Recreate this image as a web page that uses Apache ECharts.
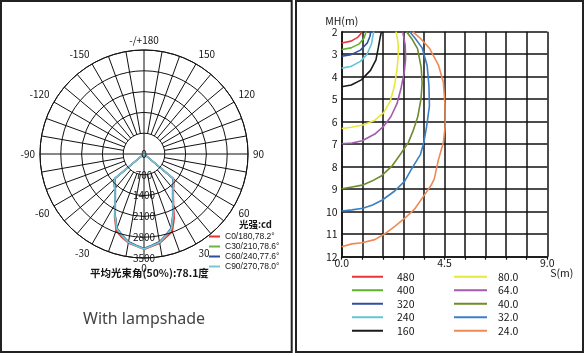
<!DOCTYPE html>
<html>
<head>
<meta charset="utf-8">
<script src="https://cdn.jsdelivr.net/npm/echarts@6/dist/echarts.min.js"></script>
<style>html,body{margin:0;padding:0;background:#fff}#c{width:587px;height:356px}</style>
</head>
<body>
<div id="c"></div>
<script>
// ---------- Left: polar intensity diagram ----------
const gammaAngles = [-90,-85,-80,-75,-70,-65,-60,-55,-50,-45,-40,-35,-30,-25,-20,-15,-10,-5,0,5,10,15,20,25,30,35,40,45,50,55,60,65,70,75,80,85,90];
const polarSeriesNames = ['C0/180,78.2°','C30/210,78.6°','C60/240,77.6°','C90/270,78.0°'];
const intensityC0 = [0,0,0,0,0,0,0,0,1300,1430,1530,1710,1960,2340,2740,2900,3040,3110,3210,3120,3050,2900,2780,2400,1990,1720,1540,1430,1300,0,0,0,0,0,0,0,0];
const intensityC30 = [0,0,0,0,0,0,0,0,1270,1410,1510,1690,1940,2300,2670,2840,3010,3090,3190,3090,3010,2840,2690,2320,1960,1710,1520,1410,1270,0,0,0,0,0,0,0,0];
const intensityC60 = [0,0,0,0,0,0,0,0,1260,1400,1500,1680,1930,2290,2660,2830,3000,3080,3180,3080,3000,2830,2660,2290,1930,1680,1500,1400,1260,0,0,0,0,0,0,0,0];
const intensityC90 = [0,0,0,0,0,0,0,0,1280,1420,1520,1700,1950,2310,2680,2850,3020,3100,3200,3100,3020,2850,2680,2310,1950,1700,1520,1420,1280,0,0,0,0,0,0,0,0];
const angleTickValues = [0,30,60,90,120,150,180,210,240,270,300,330];
const angleTickLabels = ['0','30','60','90','120','150','-/+180','-150','-120','-90','-60','-30'];

// ---------- Right: isolux-style curves ----------
const isoNamesA = ['480','400','320','240','160'];
const isoNamesB = ['80.0','64.0','40.0','32.0','24.0'];
const curve480 = [[0,2.5],[0.41,2.42],[0.7,2.25],[0.83,2.1],[0.88,2.0]];
const curve400 = [[0,2.79],[0.41,2.72],[0.77,2.54],[0.98,2.28],[1.07,2.0]];
const curve320 = [[0,3.09],[0.41,3.02],[0.82,2.82],[1.12,2.5],[1.24,2.2],[1.27,2.0]];
const curve240 = [[0,3.62],[0.4,3.55],[0.82,3.32],[1.1,3.02],[1.3,2.56],[1.4,2.0]];
const curve160 = [[0,4.45],[0.42,4.37],[0.86,4.14],[1.26,3.72],[1.5,3.25],[1.6,2.72],[1.68,2.27],[1.74,2.0]];
const curve80 = [[0,6.3],[0.42,6.25],[0.92,6.15],[1.43,5.95],[1.84,5.6],[2.12,5.1],[2.3,4.45],[2.42,3.7],[2.48,3.0],[2.47,2.5],[2.38,2.0]];
const curve64 = [[0,6.98],[0.45,6.95],[0.9,6.85],[1.45,6.55],[1.82,6.22],[2.15,5.78],[2.42,5.2],[2.6,4.5],[2.74,3.8],[2.8,3.2],[2.78,2.6],[2.67,2.0]];
const curve40 = [[0,8.98],[0.45,8.9],[0.9,8.82],[1.32,8.64],[1.75,8.4],[2.22,7.95],[2.6,7.4],[2.92,6.92],[3.12,6.42],[3.33,5.78],[3.47,5.0],[3.52,4.3],[3.48,3.6],[3.32,2.75],[3.06,2.3],[2.84,2.0]];
const curve32 = [[0,9.97],[0.45,9.92],[0.93,9.85],[1.35,9.7],[1.78,9.48],[2.32,9.08],[2.76,8.64],[3.06,8.1],[3.45,7.45],[3.6,6.9],[3.72,6.2],[3.84,5.3],[3.82,4.4],[3.74,3.5],[3.52,2.72],[3.22,2.3],[2.98,2.0]];
const curve24 = [[0,11.56],[0.45,11.43],[0.88,11.38],[1.45,11.24],[1.9,10.97],[2.34,10.64],[2.76,10.29],[3.18,9.9],[3.57,9.33],[3.9,8.85],[4.05,8.55],[4.22,7.75],[4.45,6.92],[4.53,6.2],[4.52,5.25],[4.45,4.25],[4.24,3.5],[3.85,2.75],[3.45,2.3],[3.1,2.0]];
const xTickValues = [0,4.5,9];
const xTickLabels = ['0.0','4.5','9.0'];

const polarColors = ['#e8302e','#6cb43f','#2d4f9e','#76c8d6'];
const isoColorsA = ['#e8343a','#5fb22e','#2f4f9f','#62c6d6','#1a1a1a'];
const isoColorsB = ['#e6e83c','#a35bb0','#6e8b2d','#3b7fc4','#ee8a55'];

const FONT = '"Noto Sans CJK SC","Noto Sans",sans-serif';
const NARROW = '"Liberation Sans Narrow","Liberation Sans",sans-serif';
const INK = '#151515';
const CX = 144, CY = 154, R = 104, R0 = 20.8;

function toPolar(vals){ return gammaAngles.map((g,i)=>[vals[i], g<0 ? g+360 : g]); }
function angleLabel(v){ const i = angleTickValues.indexOf(Math.round(v)); return i>=0 ? angleTickLabels[i] : ''; }
function xLabel(v){ for(let i=0;i<xTickValues.length;i++){ if(Math.abs(v-xTickValues[i])<1e-6) return xTickLabels[i]; } return ''; }
function plainNum(v){ return String(Math.round(v)); }

const polarData = [intensityC0,intensityC30,intensityC60,intensityC90];
const isoData = [curve480,curve400,curve320,curve240,curve160,curve80,curve64,curve40,curve32,curve24];
const isoNames = isoNamesA.concat(isoNamesB);
const isoColors = isoColorsA.concat(isoColorsB);

const angleBase = {type:'value',min:0,max:360,startAngle:270,clockwise:false};
const series = [];
polarData.forEach((d,i)=>{
  series.push({type:'line',name:polarSeriesNames[i],coordinateSystem:'polar',polarIndex:0,data:toPolar(d),
    showSymbol:false,symbol:'none',smooth:false,color:polarColors[i],lineStyle:{width:1.6,color:polarColors[i]},z:5});
});
isoData.forEach((d,i)=>{
  series.push({type:'line',name:isoNames[i],xAxisIndex:0,yAxisIndex:0,data:d,showSymbol:false,symbol:'none',
    color:isoColors[i],lineStyle:{width:1.6,color:isoColors[i]},z:5});
});

const chart = echarts.init(document.getElementById('c'), null, {renderer:'canvas',width:587,height:356});
chart.setOption({
  animation:false,
  backgroundColor:'#fff',
  textStyle:{fontFamily:FONT},
  graphic:[
    {type:'rect',shape:{x:1,y:1,width:290.7,height:351},style:{fill:null,stroke:'#222',lineWidth:2},silent:true},
    {type:'rect',shape:{x:296,y:1,width:287,height:351},style:{fill:null,stroke:'#222',lineWidth:2},silent:true}
  ],
  title:[
    {text:'光强:cd',left:239,top:219.5,padding:0,textStyle:{fontSize:9.5,fontWeight:'bold',color:INK,fontFamily:FONT}},
    {text:'平均光束角(50%):78.1度',left:90,top:267.5,padding:0,textStyle:{fontSize:10.5,fontWeight:'bold',color:INK,fontFamily:FONT}},
    {text:'With lampshade',left:83,top:311,padding:0,textStyle:{fontSize:16,fontWeight:'normal',color:'#444',fontFamily:'"Noto Sans","Open Sans",sans-serif'}}
  ],
  legend:[
    {data:polarSeriesNames,orient:'vertical',left:209,top:231.5,padding:0,itemWidth:11,itemHeight:2,icon:'rect',itemGap:0,
      textStyle:{fontSize:8.5,lineHeight:10,color:INK,fontFamily:NARROW}},
    {data:isoNamesA,orient:'vertical',left:352,top:270,padding:0,itemWidth:31,itemHeight:2,icon:'rect',itemGap:0,
      textStyle:{fontSize:10.5,lineHeight:13.5,color:INK,fontFamily:FONT,padding:[0,0,0,9]}},
    {data:isoNamesB,orient:'vertical',left:454,top:270,padding:0,itemWidth:33,itemHeight:2,icon:'rect',itemGap:0,
      textStyle:{fontSize:10.5,lineHeight:13.5,color:INK,fontFamily:FONT,padding:[0,0,0,6]}}
  ],
  polar:[
    {center:[CX,CY],radius:[0,R]},
    {center:[CX,CY],radius:[R0,R]},
    {center:[CX,CY],radius:[0,R0]}
  ],
  angleAxis:[
    Object.assign({},angleBase,{polarIndex:0,interval:30,
      axisLine:{show:true,lineStyle:{color:'#111',width:1}},axisTick:{show:false},splitLine:{show:false},
      axisLabel:{show:true,margin:5,fontSize:10,color:INK,fontFamily:FONT,formatter:angleLabel}}),
    Object.assign({},angleBase,{polarIndex:1,interval:10,
      axisLine:{show:false},axisTick:{show:false},axisLabel:{show:false},
      splitLine:{show:true,lineStyle:{color:'#111',width:1}}}),
    Object.assign({},angleBase,{polarIndex:2,interval:90,
      axisLine:{show:false},axisTick:{show:false},axisLabel:{show:false},
      splitLine:{show:true,lineStyle:{color:'#111',width:1}}})
  ],
  radiusAxis:[
    {polarIndex:0,type:'value',min:0,max:3500,interval:700,axisLine:{show:false},axisTick:{show:false},
      splitLine:{show:true,lineStyle:{color:'#111',width:1}},
      axisLabel:{margin:0,align:'center',verticalAlign:'middle',padding:[0,0,6,0],fontSize:10,color:INK,fontFamily:FONT,formatter:plainNum},z:10},
    {polarIndex:1,type:'value',min:0,max:3500,show:false},
    {polarIndex:2,type:'value',min:0,max:3500,show:false}
  ],
  grid:{left:341.7,top:31.7,width:205.6,height:225,outerBoundsMode:'none',containLabel:false},
  xAxis:{type:'value',min:0,max:9,interval:0.9,
    axisLine:{show:true,lineStyle:{color:'#111',width:1.5}},
    axisTick:{show:true,length:3,inside:false,lineStyle:{color:'#111',width:1.2}},
    splitLine:{show:true,lineStyle:{color:'#111',width:1.5}},
    axisLabel:{margin:1,fontSize:10.5,color:INK,fontFamily:FONT,formatter:xLabel,showMinLabel:true,showMaxLabel:true,hideOverlap:false},
    name:'S(m)',nameLocation:'end',nameGap:3,nameMoveOverlap:false,
    nameTextStyle:{fontSize:10.5,color:INK,align:'left',verticalAlign:'top',padding:[11,0,0,0]}},
  yAxis:{type:'value',min:2,max:12,interval:1,inverse:true,
    axisLine:{show:true,lineStyle:{color:'#111',width:1.5}},axisTick:{show:false},
    splitLine:{show:true,lineStyle:{color:'#111',width:1.5}},
    axisLabel:{margin:4,fontSize:10.5,color:INK,fontFamily:FONT,verticalAlign:'middle',padding:[0,0,7,0],showMinLabel:true,showMaxLabel:true,hideOverlap:false},
    name:'MH(m)',nameLocation:'start',nameGap:5,nameMoveOverlap:false,
    nameTextStyle:{fontSize:10.5,color:INK}},
  series:series
});
</script>
</body>
</html>
